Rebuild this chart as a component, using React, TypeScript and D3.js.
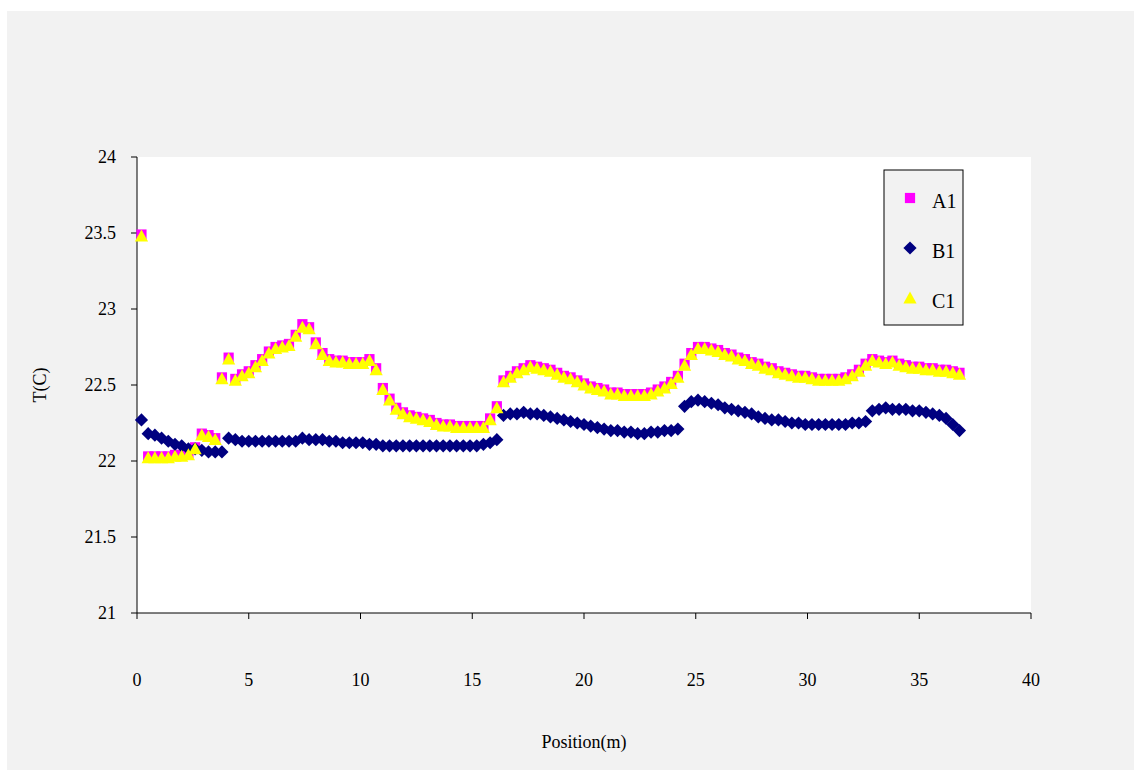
import React from "react";
import * as d3 from "d3";

const xTicks = [0, 5, 10, 15, 20, 25, 30, 35, 40];
const yTicks = [21, 21.5, 22, 22.5, 23, 23.5, 24];
const seriesNames = ["A1", "B1", "C1"];
const seriesColors = ["#ff00ff", "#000080", "#ffff00"];

// sample positions (m): 0.2, 0.5, ..., 36.8
const positions = d3.range(0, 123).map((i) => +(0.2 + 0.3 * i).toFixed(1));

const valuesA1 = [
  23.49, 22.03, 22.03, 22.03, 22.03, 22.04, 22.04, 22.05, 22.09, 22.18,
  22.17, 22.15, 22.55, 22.68, 22.54, 22.57, 22.59, 22.63, 22.67, 22.72,
  22.75, 22.76, 22.77, 22.83, 22.90, 22.88, 22.78, 22.71, 22.67, 22.66,
  22.66, 22.65, 22.65, 22.65, 22.67, 22.61, 22.48, 22.41, 22.35, 22.32,
  22.30, 22.29, 22.28, 22.27, 22.25, 22.24, 22.24, 22.23, 22.23, 22.23,
  22.23, 22.23, 22.28, 22.36, 22.53, 22.56, 22.59, 22.61, 22.63, 22.62,
  22.61, 22.60, 22.58, 22.56, 22.55, 22.53, 22.51, 22.49, 22.48, 22.47,
  22.45, 22.45, 22.44, 22.44, 22.44, 22.44, 22.45, 22.47, 22.49, 22.52,
  22.56, 22.64, 22.71, 22.75, 22.75, 22.74, 22.73, 22.71, 22.70, 22.68,
  22.67, 22.65, 22.64, 22.62, 22.61, 22.59, 22.58, 22.57, 22.56, 22.56,
  22.55, 22.54, 22.54, 22.54, 22.54, 22.55, 22.57, 22.60, 22.64, 22.67,
  22.66, 22.65, 22.66, 22.64, 22.63, 22.62, 22.62, 22.61, 22.61, 22.60,
  22.60, 22.59, 22.58,
];

const valuesB1 = [
  22.27, 22.18, 22.17, 22.15, 22.13, 22.11, 22.10, 22.08, 22.08, 22.07,
  22.06, 22.06, 22.06, 22.15, 22.14, 22.13, 22.13, 22.13, 22.13, 22.13,
  22.13, 22.13, 22.13, 22.13, 22.15, 22.14, 22.14, 22.14, 22.13, 22.13,
  22.12, 22.12, 22.12, 22.12, 22.11, 22.11, 22.10, 22.10, 22.10, 22.10,
  22.10, 22.10, 22.10, 22.10, 22.10, 22.10, 22.10, 22.10, 22.10, 22.10,
  22.10, 22.11, 22.12, 22.14, 22.30, 22.31, 22.31, 22.32, 22.31, 22.31,
  22.30, 22.29, 22.28, 22.27, 22.26, 22.25, 22.24, 22.23, 22.22, 22.21,
  22.20, 22.20, 22.19, 22.19, 22.18, 22.18, 22.19, 22.19, 22.20, 22.20,
  22.21, 22.36, 22.39, 22.40, 22.39, 22.38, 22.37, 22.35, 22.34, 22.33,
  22.32, 22.31, 22.29, 22.28, 22.27, 22.27, 22.26, 22.25, 22.25, 22.24,
  22.24, 22.24, 22.24, 22.24, 22.24, 22.24, 22.25, 22.25, 22.26, 22.33,
  22.34, 22.35, 22.34, 22.34, 22.34, 22.33, 22.33, 22.32, 22.31, 22.30,
  22.28, 22.24, 22.20,
];

const valuesC1 = [
  23.48, 22.02, 22.02, 22.02, 22.02, 22.03, 22.03, 22.04, 22.08, 22.17,
  22.16, 22.14, 22.54, 22.67, 22.53, 22.56, 22.58, 22.62, 22.66, 22.71,
  22.74, 22.75, 22.76, 22.82, 22.88, 22.87, 22.77, 22.70, 22.66, 22.65,
  22.65, 22.64, 22.64, 22.64, 22.66, 22.60, 22.47, 22.40, 22.34, 22.31,
  22.29, 22.28, 22.27, 22.26, 22.24, 22.23, 22.23, 22.22, 22.22, 22.22,
  22.22, 22.22, 22.27, 22.35, 22.52, 22.55, 22.58, 22.60, 22.62, 22.61,
  22.60, 22.59, 22.57, 22.55, 22.54, 22.52, 22.50, 22.48, 22.47, 22.46,
  22.44, 22.44, 22.43, 22.43, 22.43, 22.43, 22.44, 22.46, 22.48, 22.51,
  22.55, 22.63, 22.70, 22.74, 22.74, 22.73, 22.72, 22.70, 22.69, 22.67,
  22.66, 22.64, 22.63, 22.61, 22.60, 22.58, 22.57, 22.56, 22.55, 22.55,
  22.54, 22.53, 22.53, 22.53, 22.53, 22.54, 22.56, 22.59, 22.63, 22.66,
  22.65, 22.64, 22.65, 22.63, 22.62, 22.61, 22.61, 22.60, 22.60, 22.59,
  22.59, 22.58, 22.57,
];

const allValues = [valuesA1, valuesB1, valuesC1];

const W = 1137;
const H = 773;
const plot = { left: 137, right: 1031, top: 157, bottom: 613 };
const FONT = "Liberation Serif, Times New Roman, DejaVu Serif, serif";

function Marker({ kind, x, y, color, size }: { kind: number; x: number; y: number; color: string; size: number }) {
  if (kind === 0) {
    const s = size * 0.85;
    return <rect x={x - s / 2} y={y - s / 2} width={s} height={s} fill={color} />;
  }
  if (kind === 1) {
    const r = size * 0.55;
    return <path d={`M${x},${y - r}L${x + r},${y}L${x},${y + r}L${x - r},${y}Z`} fill={color} />;
  }
  const h = size;
  const w = size * 1.1;
  return <path d={`M${x},${y - h * 0.55}L${x + w / 2},${y + h * 0.45}L${x - w / 2},${y + h * 0.45}Z`} fill={color} />;
}

export default function App() {
  const xScale = d3.scaleLinear().domain([0, 40]).range([plot.left, plot.right]);
  const yScale = d3.scaleLinear().domain([21, 24]).range([plot.bottom, plot.top]);

  const n = Math.min(positions.length, valuesA1.length, valuesB1.length, valuesC1.length);

  const legendItems = seriesNames.map((name, i) => ({ name, i, y: 198 + i * 50 }));
  const txt = { fontFamily: FONT, fontSize: 18 };

  return (
    <svg
      width={W}
      height={H}
      style={{ position: "absolute", left: 0, top: 0, display: "block", fontFamily: FONT }}
    >
      <rect x={0} y={0} width={W} height={H} fill="#ffffff" />
      <rect x={7} y={11} width={1127} height={759} fill="#f2f2f2" />
      <rect x={plot.left} y={plot.top} width={plot.right - plot.left} height={plot.bottom - plot.top} fill="#ffffff" />

      {/* axes */}
      <line x1={plot.left} x2={plot.left} y1={plot.top} y2={plot.bottom} stroke="#000" strokeWidth={1} />
      <line x1={plot.left} x2={plot.right} y1={plot.bottom} y2={plot.bottom} stroke="#000" strokeWidth={1} />
      {yTicks.map((t) => (
        <g key={"y" + t}>
          <line x1={plot.left - 6} x2={plot.left} y1={yScale(t)} y2={yScale(t)} stroke="#000" />
          <text x={116} y={yScale(t)} dy="0.35em" textAnchor="end" style={txt} fill="#000">
            {t}
          </text>
        </g>
      ))}
      {xTicks.map((t) => (
        <g key={"x" + t}>
          <line x1={xScale(t)} x2={xScale(t)} y1={plot.bottom} y2={plot.bottom + 6} stroke="#000" />
          <text x={xScale(t)} y={680} dy="0.35em" textAnchor="middle" style={txt} fill="#000">
            {t}
          </text>
        </g>
      ))}
      <text x={584} y={742} dy="0.35em" textAnchor="middle" style={txt} fill="#000">
        Position(m)
      </text>
      <text
        x={0}
        y={0}
        transform={`translate(40,385) rotate(-90)`}
        dy="0.35em"
        textAnchor="middle"
        style={txt}
        fill="#000"
      >
        T(C)
      </text>

      {/* data */}
      {allValues.map((vals, s) => (
        <g key={"s" + s}>
          {d3.range(n).map((i) => (
            <Marker
              key={i}
              kind={s}
              x={xScale(positions[i])}
              y={yScale(vals[i])}
              color={seriesColors[s]}
              size={12}
            />
          ))}
        </g>
      ))}

      {/* legend */}
      <rect x={884} y={170} width={79} height={155} fill="#f2f2f2" stroke="#000" strokeWidth={1} />
      {legendItems.map((it) => (
        <g key={it.name}>
          <Marker kind={it.i} x={910} y={it.y} color={seriesColors[it.i]} size={12} />
          <text x={932} y={it.y + 3} dy="0.35em" style={{ fontFamily: FONT, fontSize: 20 }} fill="#000">
            {it.name}
          </text>
        </g>
      ))}
    </svg>
  );
}
